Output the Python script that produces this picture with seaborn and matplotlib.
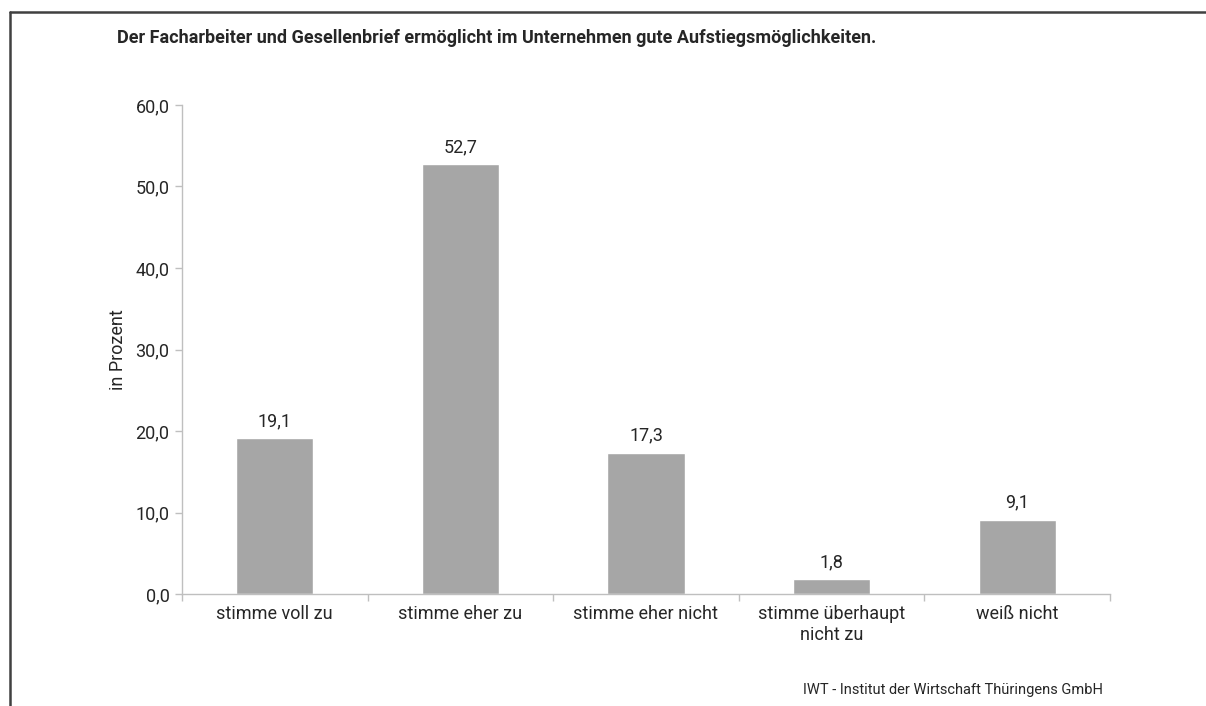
"""Survey bar chart: Facharbeiter- und Gesellenbrief / Aufstiegsmöglichkeiten."""
import matplotlib.pyplot as plt
import numpy as np
import pandas as pd
import seaborn as sns
from matplotlib.lines import Line2D

categories = [
    "stimme voll zu",
    "stimme eher zu",
    "stimme eher nicht",
    "stimme überhaupt\nnicht zu",
    "weiß nicht",
]
values = [19.1, 52.7, 17.3, 1.8, 9.1]
y_ticks = [0, 10, 20, 30, 40, 50, 60]

title = "Der Facharbeiter und Gesellenbrief ermöglicht im Unternehmen gute Aufstiegsmöglichkeiten."
source = "IWT - Institut der Wirtschaft Thüringens GmbH"

sns.set_style("white")
plt.rcParams["font.family"] = ["Roboto", "DejaVu Sans"]

df = pd.DataFrame({"Antwort": categories, "Prozent": values})

fig = plt.figure(figsize=(12.06, 7.06), dpi=100)
ax = fig.add_axes([0.1509, 0.1586, 0.7695, 0.6927])

sns.barplot(data=df, x="Antwort", y="Prozent", color="#A6A6A6", width=0.415,
            saturation=1, ax=ax)

for i, v in enumerate(values):
    ax.annotate(f"{v:.1f}".replace(".", ","), (i, v), xytext=(0, 6),
                textcoords="offset points", ha="center", va="bottom", fontsize=13)

ax.set_ylim(0, 60)
ax.set_xlim(-0.5, len(categories) - 0.5)
ax.set_yticks(y_ticks)
ax.set_yticklabels([f"{t:.1f}".replace(".", ",") for t in y_ticks], fontsize=13)
ax.set_xticks(range(len(categories)))
ax.set_xticklabels(categories, fontsize=13)
ax.set_xticks(np.arange(-0.5, len(categories)), minor=True)
ax.tick_params(axis="x", which="major", bottom=False, length=0, pad=8)
ax.tick_params(axis="x", which="minor", bottom=True, length=5, color="#BFBFBF", width=1,
               direction="out")
ax.tick_params(axis="y", left=True, length=5, color="#BFBFBF", width=1, direction="out", pad=4)
ax.set_xlabel("")
ax.set_ylabel("in Prozent", fontsize=13, labelpad=6)

for side in ["top", "right"]:
    ax.spines[side].set_visible(False)
for side in ["left", "bottom"]:
    ax.spines[side].set_color("#BFBFBF")
    ax.spines[side].set_linewidth(1)

fig.text(117 / 1206, 1 - 38 / 706, title, fontsize=13, fontweight="bold", va="center", ha="left")
fig.text(1103 / 1206, 1 - 690 / 706, source, fontsize=10.5, va="center", ha="right")

# frame lines at left and top
fig.add_artist(Line2D([9.5 / 1206, 9.5 / 1206], [0, 1 - 12 / 706], color="#404040", lw=1.8,
                      transform=fig.transFigure))
fig.add_artist(Line2D([9.5 / 1206, 1], [1 - 12 / 706, 1 - 12 / 706], color="#404040", lw=1.8,
                      transform=fig.transFigure))

fig.savefig("out.png", dpi=100)
